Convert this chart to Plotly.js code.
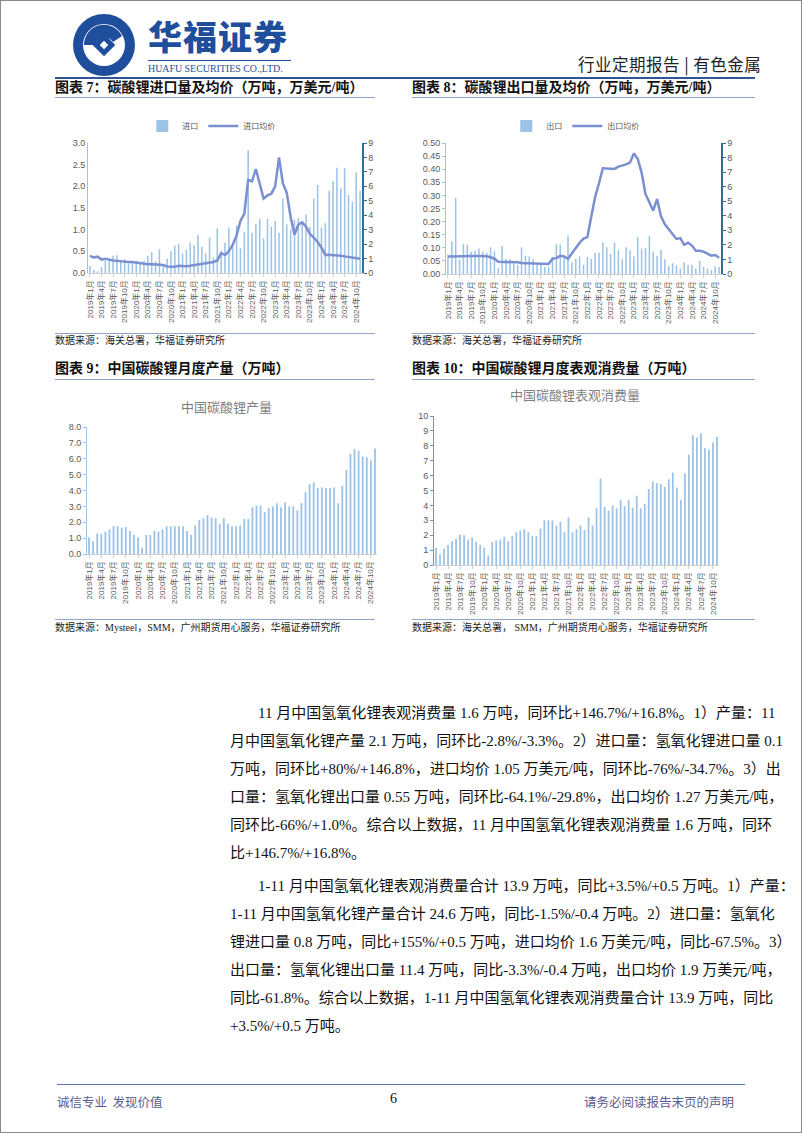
<!DOCTYPE html>
<html><head><meta charset="utf-8">
<script src="https://cdn.plot.ly/plotly-3.0.1.min.js"></script>
<style>
body{margin:0;padding:0;background:#fff;width:802px;height:1133px;position:relative;overflow:hidden;font-family:"Liberation Serif","Noto Sans CJK SC",serif;}
.abs{position:absolute;}
.frame{position:absolute;left:0;top:0;width:800px;height:1131px;border:1px solid #8a8a8a;}
.ctitle{position:absolute;font-family:"Liberation Serif","Noto Sans CJK SC";font-weight:700;font-size:14px;color:#111;white-space:nowrap;line-height:16px;}
.hline{position:absolute;height:0;border-top:1px solid #8fa6c9;}
.src{position:absolute;font-family:"Liberation Serif","Noto Sans CJK SC";font-size:10px;color:#222;white-space:nowrap;line-height:12px;}
.tl{position:absolute;font-size:15px;line-height:18px;color:#111;white-space:nowrap;text-align:justify;text-align-last:justify;}
.tl.last{text-align-last:left;}
</style></head>
<body>
<div class="frame"></div>
<!-- logo -->
<svg class="abs" style="left:70px;top:12px" width="70" height="66" viewBox="0 0 70 66">
  <circle cx="34" cy="33" r="31" fill="#1f4e9c"/>
  <circle cx="34" cy="33" r="21" fill="#fff"/>
  <path d="M14 33 A20 20 0 0 1 52 24 L43 30 A10 10 0 0 0 25 33 Z" fill="#1f4e9c"/>
  <rect x="26" y="25" width="16" height="16" transform="rotate(45 34 33)" fill="#1f4e9c"/>
  <rect x="31" y="30" width="6" height="6" transform="rotate(45 34 33)" fill="#fff"/>
</svg>
<div class="abs" style="left:148px;top:14px;font-family:'Noto Sans CJK SC';font-weight:900;font-size:34px;color:#1f4e9c;letter-spacing:1px;line-height:44px;">华福证券</div>
<div class="abs" style="left:148px;top:60px;width:143px;border-top:1px solid #1f4e9c;"></div>
<div class="abs" style="left:148px;top:62px;font-family:'Liberation Serif';font-size:11px;color:#1f4e9c;line-height:12px;transform:scaleX(0.9);transform-origin:left;white-space:nowrap;">HUAFU SECURITIES CO.,LTD.</div>
<div class="abs" style="left:578px;top:54px;font-family:'Noto Sans CJK SC';font-size:16.5px;color:#222;line-height:20px;white-space:nowrap;letter-spacing:0.5px;">行业定期报告 | 有色金属</div>
<div class="abs" style="left:55px;top:77px;width:700px;border-top:2px solid #2f5597;"></div>

<!-- chart titles -->
<div class="ctitle" style="left:55px;top:80px;">图表 7：碳酸锂进口量及均价（万吨，万美元/吨）</div>
<div class="ctitle" style="left:412px;top:80px;">图表 8：碳酸锂出口量及均价（万吨，万美元/吨）</div>
<div class="hline" style="left:55px;top:97px;width:320px;"></div>
<div class="hline" style="left:412px;top:97px;width:343px;"></div>

<div id="c7" class="abs" style="left:55px;top:100px;"></div>
<div id="c8" class="abs" style="left:405px;top:100px;"></div>

<div class="hline" style="left:55px;top:333px;width:320px;"></div>
<div class="hline" style="left:412px;top:333px;width:343px;"></div>
<div class="src" style="left:55px;top:335px;">数据来源：海关总署，华福证券研究所</div>
<div class="src" style="left:412px;top:335px;">数据来源：海关总署，华福证券研究所</div>

<div class="ctitle" style="left:55px;top:361px;">图表 9：中国碳酸锂月度产量（万吨）</div>
<div class="ctitle" style="left:412px;top:361px;">图表 10：中国碳酸锂月度表观消费量（万吨）</div>
<div class="hline" style="left:55px;top:379px;width:320px;"></div>
<div class="hline" style="left:412px;top:379px;width:343px;"></div>

<div id="c9" class="abs" style="left:55px;top:385px;"></div>
<div id="c10" class="abs" style="left:410px;top:380px;"></div>

<div class="hline" style="left:55px;top:619px;width:320px;"></div>
<div class="hline" style="left:412px;top:619px;width:343px;"></div>
<div class="src" style="left:55px;top:622px;">数据来源：Mysteel，SMM，广州期货用心服务，华福证券研究所</div>
<div class="src" style="left:412px;top:622px;">数据来源：海关总署，&nbsp;SMM，广州期货用心服务，华福证券研究所</div>

<!-- body text -->
<div class="tl" style="left:258px;top:704px;width:514px;">11 月中国氢氧化锂表观消费量 1.6 万吨，同环比+146.7%/+16.8%。1）产量：11</div>
<div class="tl" style="left:230px;top:732px;width:542px;">月中国氢氧化锂产量 2.1 万吨，同环比-2.8%/-3.3%。2）进口量：氢氧化锂进口量 0.1</div>
<div class="tl" style="left:230px;top:760px;width:542px;">万吨，同环比+80%/+146.8%，进口均价 1.05 万美元/吨，同环比-76%/-34.7%。3）出</div>
<div class="tl" style="left:230px;top:788px;width:542px;">口量：氢氧化锂出口量 0.55 万吨，同环比-64.1%/-29.8%，出口均价 1.27 万美元/吨，</div>
<div class="tl" style="left:230px;top:816px;width:542px;">同环比-66%/+1.0%。综合以上数据，11 月中国氢氧化锂表观消费量 1.6 万吨，同环</div>
<div class="tl last" style="left:230px;top:844px;width:542px;">比+146.7%/+16.8%。</div>

<div class="tl" style="left:258px;top:877px;width:514px;">1-11 月中国氢氧化锂表观消费量合计 13.9 万吨，同比+3.5%/+0.5 万吨。1）产量：</div>
<div class="tl" style="left:230px;top:905px;width:542px;">1-11 月中国氢氧化锂产量合计 24.6 万吨，同比-1.5%/-0.4 万吨。2）进口量：氢氧化</div>
<div class="tl" style="left:230px;top:933px;width:542px;">锂进口量 0.8 万吨，同比+155%/+0.5 万吨，进口均价 1.6 万美元/吨，同比-67.5%。3）</div>
<div class="tl" style="left:230px;top:961px;width:542px;">出口量：氢氧化锂出口量 11.4 万吨，同比-3.3%/-0.4 万吨，出口均价 1.9 万美元/吨，</div>
<div class="tl" style="left:230px;top:989px;width:542px;">同比-61.8%。综合以上数据，1-11 月中国氢氧化锂表观消费量合计 13.9 万吨，同比</div>
<div class="tl last" style="left:230px;top:1017px;width:542px;">+3.5%/+0.5 万吨。</div>

<!-- footer -->
<div class="abs" style="left:57px;top:1084px;width:688px;border-top:1px solid #5b78a8;"></div>
<div class="abs" style="left:57px;top:1092px;font-family:'Noto Sans CJK SC';font-size:12.5px;color:#5b5b8f;white-space:nowrap;">诚信专业&nbsp;&nbsp;发现价值</div>
<div class="abs" style="left:390px;top:1091px;font-family:'Liberation Serif';font-size:14px;color:#111;">6</div>
<div class="abs" style="left:584px;top:1092px;font-family:'Noto Sans CJK SC';font-size:12.5px;color:#5b5b8f;white-space:nowrap;">请务必阅读报告末页的声明</div>

<script>
// ---------- data ----------
const years = [2019, 2020, 2021, 2022, 2023, 2024];
const months = [];
years.forEach(y => { for (let m = 1; m <= 12; m++) { if (y === 2024 && m > 11) break; months.push(y + '年' + m + '月'); } });
const tickLabels = months.filter((_, i) => i % 3 === 0);

// 图表7 碳酸锂进口量 (万吨) & 进口均价 (万美元/吨)
const importVol = [0.17,0.07,0.04,0.14,0.28,0.33,0.40,0.41,0.27,0.32,0.22,0.27,
  0.27,0.22,0.28,0.40,0.48,0.27,0.55,0.15,0.33,0.50,0.63,0.67,
  0.45,0.54,0.70,0.64,0.87,0.60,0.45,0.82,0.35,1.03,0.50,0.70,
  1.05,0.60,1.10,0.57,0.95,2.83,0.93,1.13,1.25,0.80,1.25,1.07,
  1.20,0.93,1.72,1.12,1.00,1.23,1.27,1.20,1.35,1.07,1.72,2.03,
  1.05,1.15,1.90,2.12,2.43,1.95,2.42,1.80,1.65,2.32,1.90];
const importPrice = [1.19,1.08,1.13,0.93,0.98,0.90,0.87,0.84,0.80,0.78,0.76,0.76,
  0.72,0.65,0.62,0.60,0.60,0.60,0.59,0.55,0.45,0.43,0.44,0.50,
  0.46,0.47,0.50,0.54,0.58,0.62,0.65,0.68,0.76,0.87,1.37,1.24,
  1.52,1.95,2.60,3.60,4.10,6.44,6.35,7.20,6.20,5.15,5.37,5.49,
  6.00,8.00,6.20,5.55,3.90,2.65,3.35,3.50,3.20,2.70,2.45,2.15,
  1.75,1.25,1.27,1.25,1.25,1.20,1.15,1.10,1.05,0.98,0.98];

// 图表8 碳酸锂出口量 (万吨) & 出口均价 (万美元/吨)
const exportVol = [0.073,0.125,0.29,0.056,0.114,0.112,0.085,0.088,0.097,0.085,0.081,0.102,
  0.087,0.023,0.108,0.058,0.056,0.042,0.035,0.102,0.070,0.067,0.056,0.035,
  0.035,0.027,0.027,0.065,0.114,0.112,0.064,0.146,0.044,0.058,0.067,0.035,
  0.065,0.058,0.081,0.081,0.120,0.102,0.077,0.120,0.091,0.058,0.102,0.091,
  0.067,0.141,0.097,0.100,0.145,0.085,0.070,0.093,0.056,0.030,0.041,0.033,
  0.021,0.044,0.035,0.035,0.021,0.050,0.027,0.021,0.015,0.030,0.027];
const exportPrice = [1.21,1.22,1.23,1.23,1.24,1.24,1.24,1.24,1.23,1.23,1.22,1.15,
  1.05,0.84,0.84,0.83,0.82,0.82,0.80,0.75,0.74,0.74,0.74,0.72,
  0.69,0.73,0.69,1.05,1.09,1.25,1.21,1.05,1.42,1.80,2.15,2.43,
  2.53,3.93,5.29,6.23,7.28,7.24,7.22,7.22,7.38,7.43,7.53,7.66,
  8.28,7.91,6.97,5.50,4.87,4.35,5.15,3.97,3.41,3.10,2.72,2.41,
  2.47,2.00,2.15,1.95,1.59,1.59,1.53,1.38,1.26,1.30,1.11];

// 图表9 中国碳酸锂产量 (万吨)
const production = [1.05,0.80,1.30,1.25,1.40,1.55,1.75,1.75,1.65,1.70,1.45,1.20,
  1.05,0.40,1.20,1.20,1.45,1.40,1.55,1.75,1.75,1.75,1.75,1.75,
  1.45,1.20,1.80,2.15,2.25,2.45,2.30,2.25,1.90,2.25,1.90,1.75,
  1.75,1.80,2.20,2.20,2.95,3.05,3.05,2.65,2.90,3.00,3.20,2.95,
  3.25,3.00,3.00,2.75,3.20,3.90,4.40,4.50,4.15,4.20,4.15,4.15,
  4.20,3.20,4.30,5.30,6.30,6.60,6.50,6.15,6.10,5.90,6.65];

// 图表10 中国碳酸锂表观消费量 (万吨)
const consumption = [1.15,0.70,1.10,1.35,1.60,1.75,2.05,2.00,1.70,1.85,1.55,1.35,
  1.15,0.65,1.55,1.65,1.70,1.90,1.60,1.95,2.20,2.30,2.40,2.20,
  1.95,1.95,2.45,3.00,3.00,3.00,2.65,2.90,2.20,3.20,2.20,2.40,
  2.65,2.35,3.20,2.65,3.80,5.80,3.90,3.65,4.00,3.80,4.35,3.95,
  4.35,3.85,4.65,3.80,4.10,5.10,5.60,5.50,5.45,5.25,5.75,6.20,
  5.20,4.35,6.15,7.40,8.70,8.55,8.85,7.85,7.75,8.20,8.60];

// ---------- styles ----------
const barColor = '#9dc3e6';
const lineColor = '#7b90d0';
const tickGray = '#595959';
const fontFam = 'Liberation Sans, Noto Sans CJK SC, sans-serif';
const cfg = {staticPlot: true, displayModeBar: false};

function xAxis() {
  return {type: 'category', tickmode: 'array', tickvals: tickLabels, ticktext: tickLabels,
    tickangle: -90, tickfont: {size: 8, color: tickGray}, showline: true, linecolor: '#d0d0d0',
    ticks: 'outside', ticklen: 3, tickcolor: '#d0d0d0', showgrid: false, zeroline: false, fixedrange: true};
}

// chart 7
Plotly.newPlot('c7', [
  {type: 'bar', x: months, y: importVol, name: '进口', marker: {color: barColor}},
  {type: 'scatter', mode: 'lines', x: months, y: importPrice, name: '进口均价', yaxis: 'y2',
   line: {color: lineColor, width: 2.5}}
], {
  width: 330, height: 235, margin: {l: 33, r: 23, t: 34, b: 62},
  bargap: 0.6, font: {family: fontFam, color: tickGray},
  paper_bgcolor: 'rgba(0,0,0,0)', plot_bgcolor: 'rgba(0,0,0,0)',
  showlegend: true,
  legend: {orientation: 'h', x: 0.45, xanchor: 'center', y: 1.13, yanchor: 'middle',
    font: {size: 8, color: tickGray}},
  xaxis: xAxis(),
  yaxis: {range: [0, 3], dtick: 0.5, tickformat: '.1f', showgrid: false, zeroline: false,
    showline: true, linecolor: '#9dc3e6', ticks: '', tickfont: {size: 9, color: tickGray}},
  yaxis2: {overlaying: 'y', side: 'right', range: [0, 9], dtick: 1, showgrid: false, zeroline: false,
    showline: true, linecolor: '#2e6f95', linewidth: 1.5, ticks: 'outside', ticklen: 3, tickcolor: '#2e6f95',
    tickfont: {size: 9, color: tickGray}}
}, cfg);

// chart 8
Plotly.newPlot('c8', [
  {type: 'bar', x: months, y: exportVol, name: '出口', marker: {color: barColor}},
  {type: 'scatter', mode: 'lines', x: months, y: exportPrice, name: '出口均价', yaxis: 'y2',
   line: {color: lineColor, width: 2.5}}
], {
  width: 345, height: 235, margin: {l: 41, r: 29, t: 31, b: 61},
  bargap: 0.6, font: {family: fontFam, color: tickGray},
  paper_bgcolor: 'rgba(0,0,0,0)', plot_bgcolor: 'rgba(0,0,0,0)',
  showlegend: true,
  legend: {orientation: 'h', x: 0.47, xanchor: 'center', y: 1.13, yanchor: 'middle',
    font: {size: 8, color: tickGray}},
  xaxis: xAxis(),
  yaxis: {range: [0, 0.5], dtick: 0.05, tickformat: '.2f', showgrid: false, zeroline: false,
    showline: true, linecolor: '#9dc3e6', ticks: 'outside', ticklen: 3, tickcolor: '#9dc3e6',
    tickfont: {size: 9, color: tickGray}},
  yaxis2: {overlaying: 'y', side: 'right', range: [0, 9], dtick: 1, showgrid: false, zeroline: false,
    showline: true, linecolor: '#2e6f95', linewidth: 1.5, ticks: 'outside', ticklen: 3, tickcolor: '#2e6f95',
    tickfont: {size: 9, color: tickGray}}
}, cfg);

// chart 9
Plotly.newPlot('c9', [
  {type: 'bar', x: months, y: production, name: '中国碳酸锂产量', marker: {color: barColor}}
], {
  width: 330, height: 225, margin: {l: 32, r: 8, t: 42, b: 56},
  bargap: 0.55, font: {family: fontFam, color: tickGray},
  paper_bgcolor: 'rgba(0,0,0,0)', plot_bgcolor: 'rgba(0,0,0,0)',
  showlegend: false,
  title: {text: '中国碳酸锂产量', x: 0.52, xanchor: 'center', y: 0.9, yanchor: 'middle',
    font: {family: 'Noto Sans CJK SC', size: 13, color: '#7f7f7f'}},
  xaxis: xAxis(),
  yaxis: {range: [0, 8], dtick: 1, tickformat: '.1f', showgrid: false, zeroline: false,
    showline: true, linecolor: '#9dc3e6', ticks: 'outside', ticklen: 3, tickcolor: '#9dc3e6',
    tickfont: {size: 9, color: tickGray}}
}, cfg);

// chart 10
Plotly.newPlot('c10', [
  {type: 'bar', x: months, y: consumption, name: '中国碳酸锂表观消费量', marker: {color: barColor}}
], {
  width: 330, height: 240, margin: {l: 24, r: 21, t: 36, b: 55},
  bargap: 0.55, font: {family: fontFam, color: tickGray},
  paper_bgcolor: 'rgba(0,0,0,0)', plot_bgcolor: 'rgba(0,0,0,0)',
  showlegend: false,
  title: {text: '中国碳酸锂表观消费量', x: 0.5, xanchor: 'center', y: 0.935, yanchor: 'middle',
    font: {family: 'Noto Sans CJK SC', size: 13, color: '#7f7f7f'}},
  xaxis: xAxis(),
  yaxis: {range: [0, 10], dtick: 1, showgrid: false, zeroline: false,
    showline: true, linecolor: '#5b9bd5', ticks: 'outside', ticklen: 3, tickcolor: '#5b9bd5',
    tickfont: {size: 9, color: tickGray}}
}, cfg);
</script>
</body></html>
